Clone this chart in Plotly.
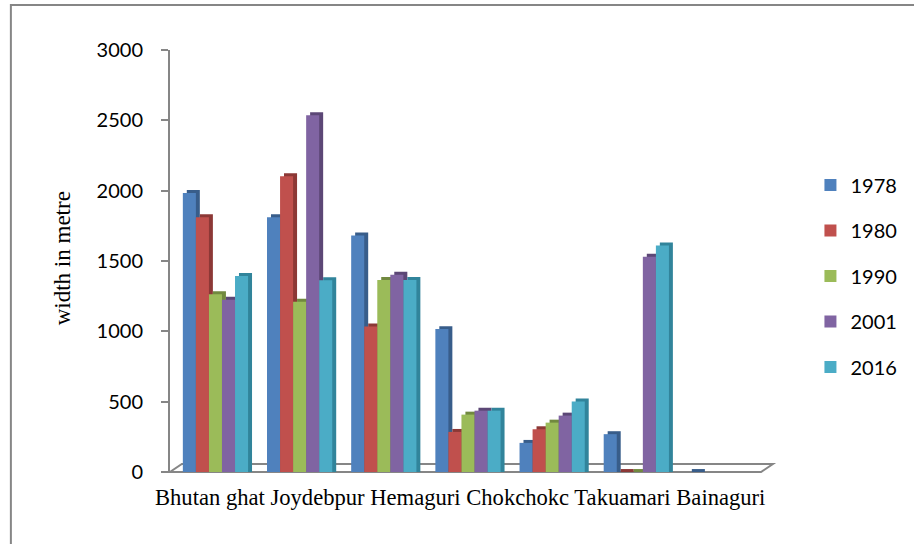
import plotly.graph_objects as go

# ---- data ----
categories = ["Bhutan ghat", "Joydebpur", "Hemaguri", "Chokchokc", "", "Takuamari", "Bainaguri"]
years = ["1978", "1980", "1990", "2001", "2016"]
v1978 = [1983, 1811, 1681, 1016, 207, 269, 0]
v1980 = [1811, 2103, 1035, 285, 304, 0, None]
v1990 = [1264, 1210, 1365, 408, 351, 0, None]
v2001 = [1224, 2537, 1403, 436, 401, 1530, None]
v2016 = [1394, 1363, 1365, 436, 502, 1611, None]
series = [v1978, v1980, v1990, v2001, v2016]
y_ticks = [0, 500, 1000, 1500, 2000, 2500, 3000]

# ---- styles ----
front_colors = ["#4F81BD", "#C0504D", "#9BBB59", "#8064A2", "#4BACC6"]
side_colors = ["#385D8A", "#8C3836", "#71893F", "#5C4776", "#31849B"]
BAR_W = 0.155
DX = 0.047   # 3D depth shift (x units)
DY = 21      # 3D depth shift (y units)
GRAY = "#868686"

xpos = list(range(len(categories)))
fig = go.Figure()

# depth (side/top faces) first
for j, (yr, vals) in enumerate(zip(years, series)):
    off = -2.5 * BAR_W + j * BAR_W
    fig.add_trace(go.Bar(
        x=xpos, y=[None if v is None else v + DY for v in vals],
        base=0, width=BAR_W, offset=off + DX,
        marker=dict(color=side_colors[j], line=dict(width=0)),
        showlegend=False, hoverinfo="skip"))

# front faces
for j, (yr, vals) in enumerate(zip(years, series)):
    off = -2.5 * BAR_W + j * BAR_W
    fig.add_trace(go.Bar(
        x=xpos, y=vals, width=BAR_W, offset=off, name=yr,
        marker=dict(color=front_colors[j], line=dict(width=0)),
        legendgroup=yr))

W, H = 914, 544
L, R, T, B = 170, 144, 50, 72
pw, ph = W - L - R, H - T - B

def px(x):
    return (x - L) / pw

def py(y):
    return (H - B - y) / ph

floor = (f"M {px(170)} {py(472)} L {px(768)} {py(472)} L {px(780)} {py(464)} "
         f"L {px(182)} {py(464)} Z")

fig.update_layout(
    width=W, height=H,
    margin=dict(l=L, r=R, t=T, b=B),
    paper_bgcolor="white", plot_bgcolor="rgba(0,0,0,0)",
    barmode="overlay",
    xaxis=dict(range=[-0.54, 6.505], showticklabels=False, showgrid=False,
               zeroline=False, showline=False, ticks=""),
    yaxis=dict(range=[0, 3000], tickvals=y_ticks, showgrid=False, zeroline=False,
               showline=True, linecolor=GRAY, linewidth=2, ticks="outside",
               ticklen=7, tickwidth=2, tickcolor=GRAY, ticklabelstandoff=14,
               tickfont=dict(family="Lato", size=20, color="black")),
    legend=dict(x=px(818), y=py(276), xanchor="left", yanchor="middle",
                font=dict(family="Lato", size=20, color="black"),
                tracegroupgap=16.5, bgcolor="rgba(0,0,0,0)"),
    shapes=[
        dict(type="path", path=floor, xref="paper", yref="paper",
             fillcolor="white", line=dict(color=GRAY, width=2), layer="below"),
        dict(type="rect", xref="paper", yref="paper",
             x0=px(9), y0=py(560), x1=px(930), y1=py(5),
             line=dict(color=GRAY, width=2), fillcolor="rgba(0,0,0,0)", layer="below"),
    ],
    annotations=[
        dict(text=" ".join(c for c in categories if c), xref="paper", yref="paper",
             x=px(463), y=py(497), xanchor="center", yanchor="middle", showarrow=False,
             font=dict(family="Liberation Serif", size=22.6, color="black")),
        dict(text="width in metre", xref="paper", yref="paper", textangle=-90,
             x=px(61), y=py(258), xanchor="center", yanchor="middle", showarrow=False,
             font=dict(family="Liberation Serif", size=23, color="black")),
    ],
)

fig.write_html("out.html")
